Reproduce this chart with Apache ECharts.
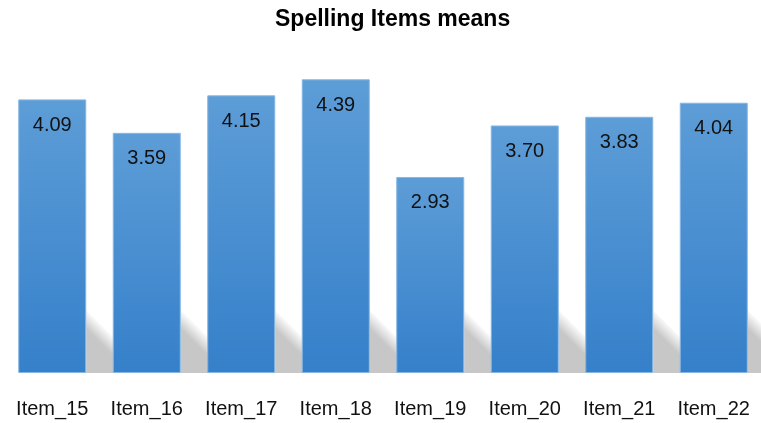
<!DOCTYPE html>
<html>
<head>
<meta charset="utf-8">
<script src="https://cdn.jsdelivr.net/npm/echarts@6/dist/echarts.min.js"></script>
<style>html,body{margin:0;padding:0;background:#fff}#c{width:761px;height:423px}</style>
</head>
<body>
<div id="c"></div>
<script>
const categories = ['Item_15','Item_16','Item_17','Item_18','Item_19','Item_20','Item_21','Item_22'];
const means = [4.09, 3.59, 4.15, 4.39, 2.93, 3.70, 3.83, 4.04];
const titleText = 'Spelling Items means';

const chart = echarts.init(document.getElementById('c'), null, {renderer: 'canvas'});
const font = '"Liberation Sans", Arial, sans-serif';
chart.setOption({
  animation: false,
  backgroundColor: '#ffffff',
  title: {
    text: titleText, left: 275, top: 8, padding: 0,
    textStyle: {fontFamily: font, fontWeight: 'bold', fontSize: 23, color: '#000'}
  },
  grid: {left: 5, width: 758, top: 38.5, height: 334.5, containLabel: false},
  xAxis: {
    type: 'category', data: categories,
    axisLine: {show: false}, axisTick: {show: false},
    axisLabel: {margin: 26, fontFamily: font, fontSize: 20, color: '#111'}
  },
  yAxis: {type: 'value', min: 0, max: 5, show: false, splitLine: {show: false}},
  series: [
    {
      type: 'custom', z: 1, silent: true,
      data: means.map((v, i) => [i, v]),
      renderItem: function (params, api) {
        const base = api.coord([api.value(0), 0]);
        const xR = base[0] + 34;
        return {
          type: 'polygon',
          shape: {points: [[xR, base[1] - 63], [xR + 63, base[1]], [xR, base[1]]]},
          style: {
            fill: new echarts.graphic.LinearGradient(0.5, 0.5, 0.35, 0.65, [
              {offset: 0, color: 'rgba(0,0,0,0.02)'},
              {offset: 1, color: 'rgba(0,0,0,0.22)'}
            ])
          }
        };
      }
    },
    {
      type: 'bar', z: 2, data: means, barWidth: 68,
      itemStyle: {
        color: new echarts.graphic.LinearGradient(0, 0, 0, 1, [
          {offset: 0, color: '#5D9DD7'},
          {offset: 1, color: '#3580CA'}
        ]),
        borderColor: '#86B6E3', borderWidth: 1
      },
      label: {
        show: true, position: 'insideTop', distance: 16,
        formatter: p => p.value.toFixed(2),
        fontFamily: font, fontSize: 20, color: '#111'
      }
    }
  ]
});
</script>
</body>
</html>
